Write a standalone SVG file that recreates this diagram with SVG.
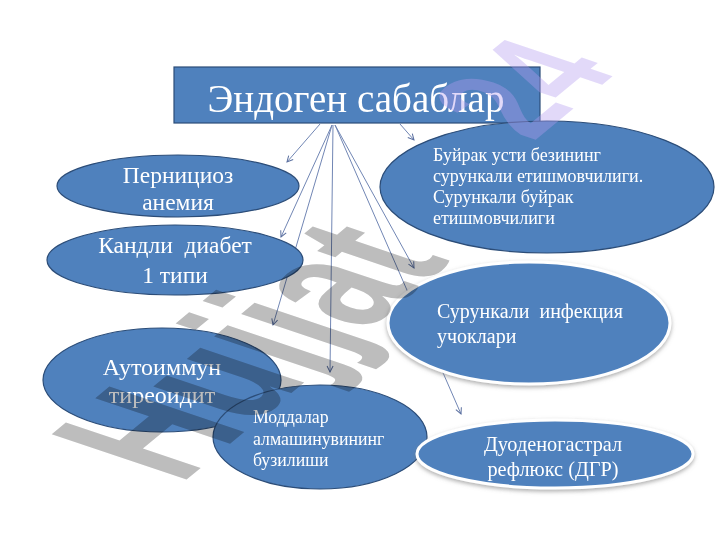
<svg xmlns="http://www.w3.org/2000/svg" width="720" height="540" viewBox="0 0 720 540">
<defs>
<marker id="ah" markerWidth="8" markerHeight="8" refX="7" refY="4" orient="auto" markerUnits="userSpaceOnUse">
<path d="M1,1 L7,4 L1,7" fill="none" stroke="#5a6f9f" stroke-width="1"/>
</marker>
<filter id="glow" x="-10%" y="-10%" width="120%" height="130%">
<feDropShadow dx="0" dy="2" stdDeviation="2" flood-color="#777" flood-opacity="0.6"/>
</filter>
<style>
.conn line{stroke:#7186b4;stroke-width:1;marker-end:url(#ah)}
.el{fill:#4f81bd;stroke:#2c4d78;stroke-width:1.2}
.elg{fill:#4f81bd;stroke:#ffffff;stroke-width:3;filter:url(#glow)}
.t{font-family:"Liberation Serif","Times New Roman",serif;fill:#ffffff}
.wm{font-family:"Liberation Sans",Arial,sans-serif;font-weight:bold;font-size:100px}
</style>
</defs>
<rect width="720" height="540" fill="#ffffff"/>
<g id="connectors" class="conn">
<line x1="320" y1="124" x2="287" y2="162"/>
<line x1="332" y1="125" x2="281" y2="237"/>
<line x1="332" y1="125" x2="273" y2="325"/>
<line x1="333" y1="125" x2="330" y2="372"/>
<line x1="335" y1="125" x2="414" y2="268"/>
<line x1="335" y1="125" x2="461" y2="414"/>
<line x1="400" y1="124" x2="414" y2="140"/>
</g>
<g id="title">
<rect x="174" y="67" width="366" height="56" fill="#4f81bd" stroke="#2c4d78" stroke-width="1.2"/>
<text class="t" x="356" y="112" font-size="39" text-anchor="middle">Эндоген сабаблар</text>
</g>
<g id="node-pernicioz">
<ellipse class="el" cx="178" cy="186" rx="121" ry="31"/>
<text class="t" font-size="23.5" text-anchor="middle"><tspan x="178" y="183">Пернициоз</tspan><tspan x="178" y="210">анемия</tspan></text>
</g>
<g id="node-diabet">
<ellipse class="el" cx="175" cy="260" rx="128" ry="35"/>
<text class="t" font-size="23.5" text-anchor="middle" xml:space="preserve"><tspan x="175" y="253">Кандли  диабет</tspan><tspan x="175" y="283">1 типи</tspan></text>
</g>
<g id="node-autoimmun">
<ellipse class="el" cx="162" cy="380" rx="119" ry="52"/>
<text class="t" font-size="24" text-anchor="middle"><tspan x="162" y="375">Аутоиммун</tspan><tspan x="162" y="403">тиреоидит</tspan></text>
</g>
<g id="node-moddalar">
<ellipse class="el" cx="320" cy="437" rx="107" ry="52"/>
<text class="t" font-size="17.8"><tspan x="253" y="423">Моддалар</tspan><tspan x="253" y="445">алмашинувининг</tspan><tspan x="253" y="466">бузилиши</tspan></text>
</g>
<g id="node-buyrak">
<ellipse class="el" cx="547" cy="187" rx="167" ry="66"/>
<text class="t" font-size="18"><tspan x="433" y="161">Буйрак усти безининг</tspan><tspan x="433" y="182">сурункали етишмовчилиги.</tspan><tspan x="433" y="203">Сурункали буйрак</tspan><tspan x="433" y="224">етишмовчилиги</tspan></text>
</g>
<g id="node-infekciya">
<ellipse class="elg" cx="529" cy="323" rx="141" ry="61"/>
<text class="t" font-size="20" xml:space="preserve"><tspan x="437" y="318">Сурункали  инфекция</tspan><tspan x="437" y="343">учоклари</tspan></text>
</g>
<g id="node-dgr">
<ellipse class="elg" cx="555" cy="454" rx="138" ry="34"/>
<text class="t" font-size="20.3" text-anchor="middle"><tspan x="553" y="451">Дуоденогастрал</tspan><tspan x="553" y="476">рефлюкс (ДГР)</tspan></text>
</g>
<g id="watermark">
<text class="wm" fill="#bdbdbd" style="mix-blend-mode:multiply" transform="matrix(0.98,-0.81,1.96,0.66,180,485)">Hujjat</text>
<text class="wm" fill="#b39af0" fill-opacity="0.38" transform="matrix(0.784,-0.648,1.568,0.528,533,142)">24</text>
</g>
</svg>
